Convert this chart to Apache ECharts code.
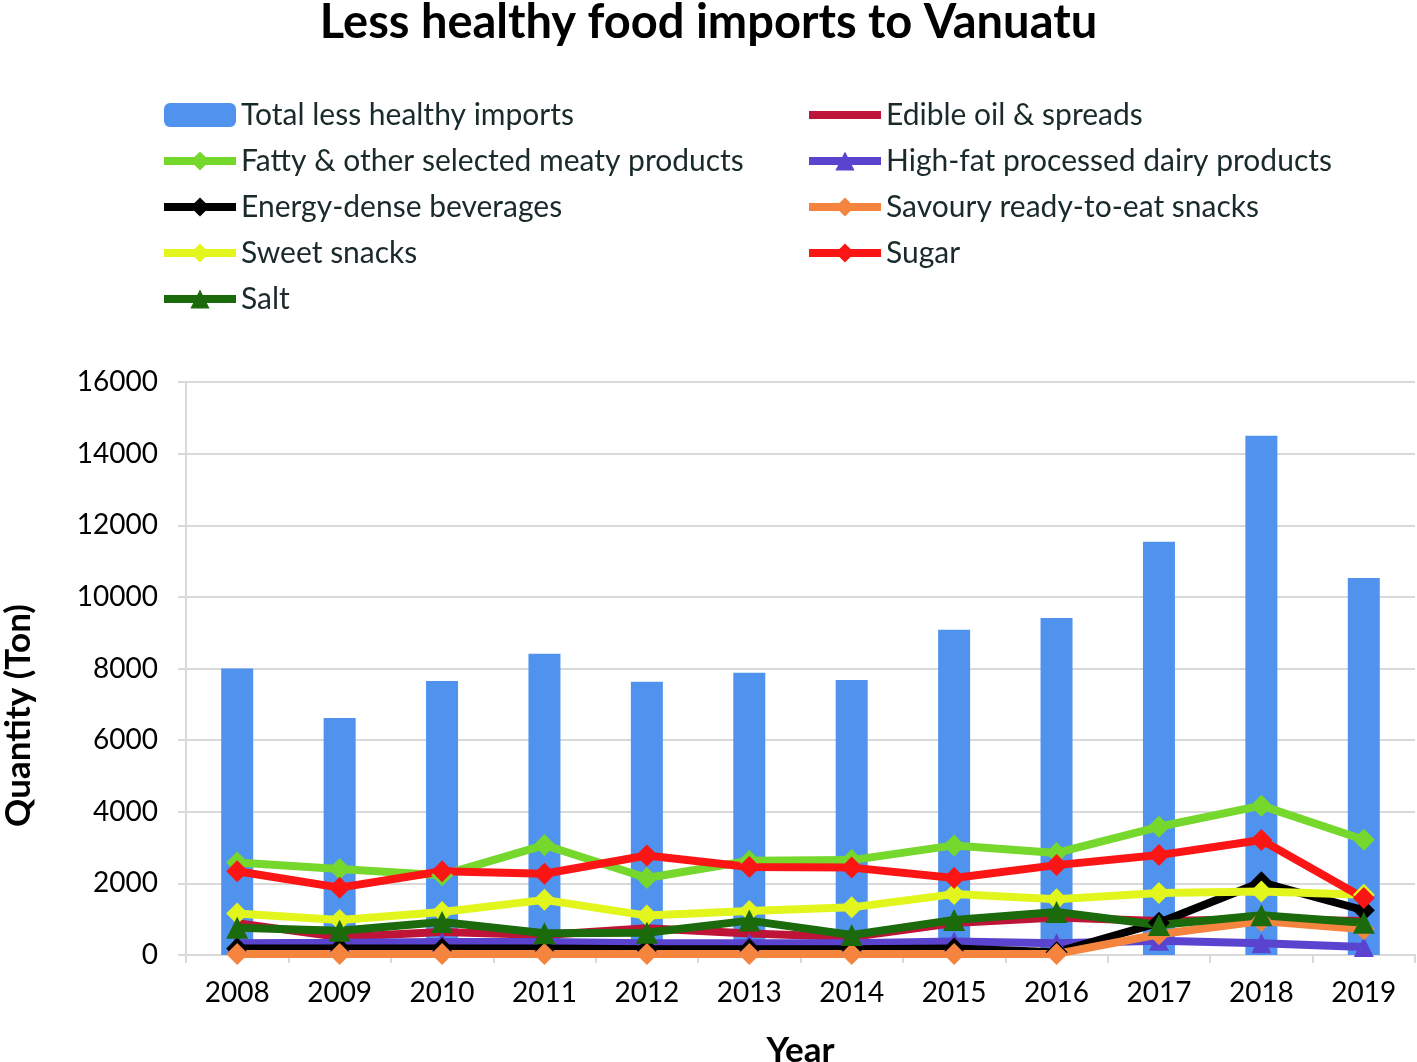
<!DOCTYPE html>
<html><head><meta charset="utf-8">
<script src="https://cdn.jsdelivr.net/npm/echarts@6/dist/echarts.min.js"></script>
<style>html,body{margin:0;padding:0;background:#fff}#c{width:1417px;height:1062px}</style>
</head><body><div id="c"></div>
<script>
const years = ['2008','2009','2010','2011','2012','2013','2014','2015','2016','2017','2018','2019'];
const totalImports = [8000,6620,7650,8410,7630,7880,7680,9080,9410,11540,14500,10530];
const edibleOil = [890,500,640,560,750,600,500,890,1050,950,1000,950];
const fattyMeat = [2580,2400,2230,3070,2150,2630,2650,3060,2850,3580,4170,3220];
const dairy = [330,340,360,360,330,330,330,380,330,400,330,220];
const beverages = [180,180,180,180,160,160,160,180,80,900,2030,1250];
const savoury = [30,30,30,30,30,30,30,30,30,580,950,720];
const sweetSnacks = [1160,980,1200,1540,1100,1230,1330,1700,1560,1730,1770,1680];
const sugar = [2340,1880,2340,2270,2780,2460,2440,2150,2510,2790,3210,1590];
const salt = [760,680,920,610,620,960,560,980,1200,840,1110,900];
const yTicks = [0,2000,4000,6000,8000,10000,12000,14000,16000];

const FONT = 'Lato, "Open Sans", sans-serif';
function lineSeries(name, data, color, symbol, size) {
  return {
    name, type: 'line', data,
    symbol: symbol || 'none', symbolSize: size || 22,
    showSymbol: !!symbol,
    lineStyle: { color, width: 8 },
    itemStyle: { color },
    emphasis: { disabled: true },
    animation: false
  };
}
const chart = echarts.init(document.getElementById('c'), null, { renderer: 'canvas' });
const legendText = { fontSize: 30, color: '#1a2a2a', fontFamily: FONT, lineHeight: 30 };
const legendCommon = { orient: 'vertical', top: 100, padding: 0, itemWidth: 72, itemHeight: 24, itemGap: 16,
  textStyle: legendText, lineStyle: { width: 8 } };
chart.setOption({
  animation: false,
  title: {
    text: 'Less healthy food imports to Vanuatu',
    left: 'center', top: -6,
    textStyle: { fontSize: 47, fontWeight: 'bold', color: '#000', fontFamily: FONT }
  },
  legend: [
    Object.assign({}, legendCommon, { left: 160,
      data: ['Total less healthy imports','Fatty & other selected meaty products','Energy-dense beverages','Sweet snacks','Salt'] }),
    Object.assign({}, legendCommon, { left: 805,
      data: [{ name: 'Edible oil & spreads', icon: 'path://M0,0 L72,0 L72,8 L0,8 Z' },
             'High-fat processed dairy products','Savoury ready-to-eat snacks','Sugar'] })
  ],
  grid: { left: 186, right: 2, top: 382, bottom: 107, containLabel: false, outerBoundsMode: 'none' },
  xAxis: {
    type: 'category', data: years, boundaryGap: true,
    name: 'Year', nameLocation: 'middle', nameGap: 78,
    nameTextStyle: { fontSize: 35, fontWeight: 'bold', color: '#000', fontFamily: FONT },
    axisLine: { show: true, lineStyle: { color: '#d9d9d9', width: 2 } },
    axisTick: { show: true, length: 8, lineStyle: { color: '#d9d9d9', width: 2 } },
    axisLabel: { fontSize: 28, color: '#000', margin: 24, fontFamily: FONT }
  },
  yAxis: {
    type: 'value', min: yTicks[0], max: yTicks[yTicks.length-1], interval: 2000,
    name: 'Quantity (Ton)', nameLocation: 'middle', nameGap: 150, nameRotate: 90,
    nameTextStyle: { fontSize: 35, fontWeight: 'bold', color: '#000', fontFamily: FONT, padding: [0, 94, 0, 0] },
    axisLine: { show: true, lineStyle: { color: '#d9d9d9', width: 2 } },
    axisTick: { show: true, length: 8, lineStyle: { color: '#d9d9d9', width: 2 } },
    splitLine: { show: true, lineStyle: { color: '#d9d9d9', width: 2 } },
    axisLabel: { fontSize: 28, color: '#000', margin: 28, fontFamily: FONT, formatter: v => String(v) }
  },
  series: [
    { name: 'Total less healthy imports', type: 'bar', data: totalImports, barWidth: 32,
      itemStyle: { color: '#4f93ef' }, emphasis: { disabled: true } },
    lineSeries('Edible oil & spreads', edibleOil, '#be1438', null),
    lineSeries('Fatty & other selected meaty products', fattyMeat, '#76d72c', 'diamond'),
    lineSeries('High-fat processed dairy products', dairy, '#5a44cf', 'triangle', 20),
    lineSeries('Energy-dense beverages', beverages, '#000000', 'diamond'),
    lineSeries('Savoury ready-to-eat snacks', savoury, '#f5843f', 'diamond'),
    lineSeries('Sweet snacks', sweetSnacks, '#e2f61e', 'diamond'),
    lineSeries('Sugar', sugar, '#fb1515', 'diamond'),
    lineSeries('Salt', salt, '#1b6a0c', 'triangle')
  ]
});
</script></body></html>
